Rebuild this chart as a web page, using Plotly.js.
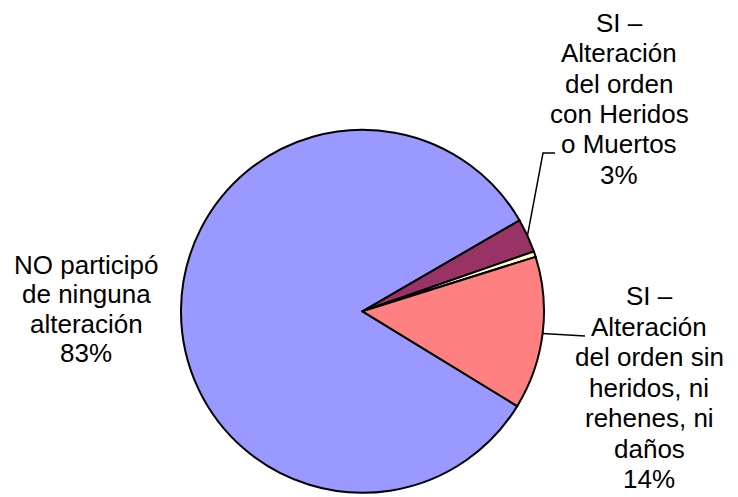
<!DOCTYPE html>
<html>
<head>
<meta charset="utf-8">
<script src="https://cdn.plot.ly/plotly-3.0.1.min.js"></script>
<style>html,body{margin:0;padding:0;background:#fff}#chart{width:738px;height:497px}</style>
</head>
<body>
<div id="chart"></div>
<script>
// Data (clockwise order starting at the lower-right boundary)
const categories = [
  'NO participó de ninguna alteración',
  'SI – Alteración del orden con Heridos o Muertos',
  'SI – Otro',
  'SI – Alteración del orden sin heridos, ni rehenes, ni daños'
];
const values = [82.9, 3.0, 0.5, 13.6];
const colors = ['#9999FF', '#993366', '#FFFFCC', '#FF8080'];
// label lines as displayed (empty = no label)
const labelLines = [
  ['NO participó', 'de ninguna', 'alteración'],
  ['SI –', 'Alteración', 'del orden', 'con Heridos', 'o Muertos'],
  [],
  ['SI –', 'Alteración', 'del orden sin', 'heridos, ni', 'rehenes, ni', 'daños']
];

const W = 738, H = 497;
const cx = 362.5, cy = 311.3, R = 181.5;
const rotation = 121.5;
const total = values.reduce((a, b) => a + b, 0);

// label layout: center x, first baseline, line spacing (pixels)
const labelPos = [
  {x: 86, y: 273.5, dy: 29.6},
  {x: 619, y: 32, dy: 30.3},
  null,
  {x: 649, y: 305, dy: 30.5}
];
// leader line bends / ends (pixels)
const leaders = [
  null,
  [[543, 153], [555, 153]],
  null,
  [[585, 336]]
];

const px = x => x / W, py = y => 1 - y / H;
const font = {family: 'Liberation Sans, Arial, sans-serif', size: 26, color: '#000'};

const annotations = [];
const shapes = [];
let ang = rotation;
values.forEach((v, i) => {
  const span = v / total * 360;
  const mid = (ang + span / 2) * Math.PI / 180;
  ang += span;
  const lp = labelPos[i];
  if (!lp) return;
  const pct = Math.round(v / total * 100) + '%';
  const lines = labelLines[i].concat([pct]);
  lines.forEach((t, k) => {
    annotations.push({
      text: t, x: px(lp.x), y: py(lp.y + k * lp.dy - 9), xref: 'paper', yref: 'paper',
      xanchor: 'center', yanchor: 'middle', showarrow: false, font: font
    });
  });
  if (leaders[i]) {
    const sx = cx + R * Math.sin(mid), sy = cy - R * Math.cos(mid);
    let p = 'M ' + px(sx) + ',' + py(sy);
    leaders[i].forEach(pt => { p += ' L ' + px(pt[0]) + ',' + py(pt[1]); });
    shapes.push({type: 'path', xref: 'paper', yref: 'paper', path: p,
      line: {color: '#000', width: 1.5}});
  }
});

const trace = {
  type: 'pie',
  labels: categories,
  values: values,
  sort: false,
  direction: 'clockwise',
  rotation: rotation,
  textinfo: 'none',
  hoverinfo: 'label+percent',
  marker: {colors: colors, line: {color: '#000', width: 2}},
  domain: {x: [(cx - R) / W, (cx + R) / W], y: [1 - (cy + R) / H, 1 - (cy - R) / H]},
  showlegend: false
};

Plotly.newPlot('chart', [trace], {
  width: W, height: H,
  margin: {l: 0, r: 0, t: 0, b: 0},
  paper_bgcolor: '#fff',
  showlegend: false,
  annotations: annotations,
  shapes: shapes
}, {displayModeBar: false, staticPlot: true});
</script>
</body>
</html>
